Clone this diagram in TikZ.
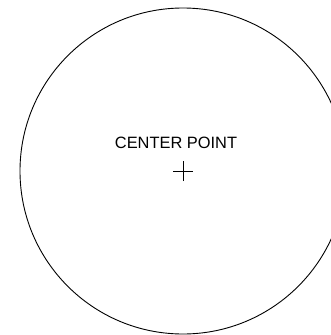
\documentclass[tikz,border=0pt]{standalone}
\usepackage{fontspec}
\setmainfont{Liberation Sans}
\begin{document}
\begin{tikzpicture}[x=1pt,y=-1pt,semithick]
			\tikzset{every node/.style={font=\fontsize{16.4}{18}\selectfont,inner sep=0pt}}
			\def \r{163}
			\def \d{10}
			\useasboundingbox (0,0) rectangle (331,335);
			\clip (0,0) rectangle (331,335);
			\path 
			(183,171)coordinate(M)
			(176,143)coordinate(T)
			;
			\draw[line width=0.9pt] (M) circle (\r);
			\draw[line width=0.9pt] ([xshift=-\d]M)--([xshift=\d]M) ([yshift=-\d]M)--([yshift=\d]M);
			\node (lbl) at (T) {CENTER POINT};
		\end{tikzpicture}
\end{document}
